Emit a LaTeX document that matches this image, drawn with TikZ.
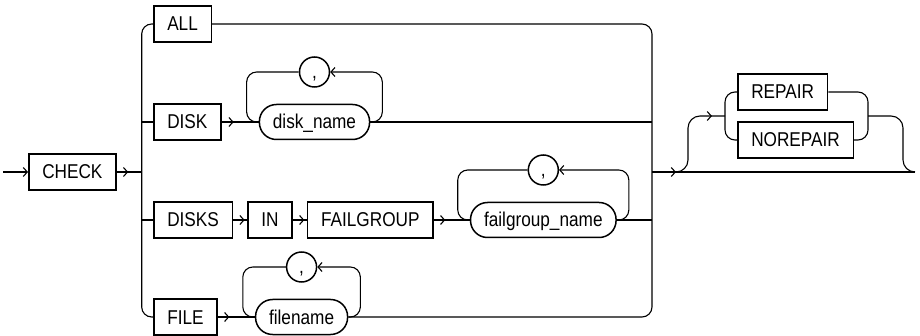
\documentclass[tikz,border=0pt]{standalone}
\usepackage{fontspec}
\newfontfamily\railfont[FakeStretch=0.86]{Liberation Sans}
\usetikzlibrary{positioning,arrows.meta,decorations.markings}

\begin{document}
\begin{tikzpicture}[
    x=1pt,y=-1pt,
    kw/.style={
      draw,line width=1.5pt,
      font=\railfont\fontsize{20}{20}\selectfont,
      text height=14pt,text depth=0pt,
      inner xsep=13.5pt,minimum height=36pt},
    var/.style={kw,rounded corners=17pt,minimum height=35pt},
    comma/.style={kw,circle,inner sep=0pt,minimum size=30pt},
    conn/.style={line width=1.1pt},
    bus/.style={conn,rounded corners=10pt},
    arr/.style={conn,postaction={decorate},
      decoration={markings,mark=at position #1 with {\arrow{Straight Barb[length=4pt,width=9pt]}}}},
    arr/.default=11.5pt,
    >={Straight Barb[length=4pt,width=9pt]}
]
\useasboundingbox (0,0) rectangle (920,336);

\node[kw,anchor=west]            (chk)    at (28,172)  {CHECK};
\node[kw,anchor=west]            (all)    at (153,24)  {ALL};
\node[kw,anchor=west]            (disk)   at (153,122) {DISK};
\node[var,right=37pt of disk]    (dname)  {disk\_name};
\node[comma,above=16pt of dname] (c1)     {,};
\node[kw,anchor=west]            (disks)  at (153,220) {DISKS};
\node[kw,right=14pt of disks]    (in)     {IN};
\node[kw,right=14pt of in]       (fg)     {FAILGROUP};
\node[var,right=36pt of fg]      (fgname) {failgroup\_name};
\node[comma,above=16pt of fgname](c2)     {,};
\node[kw,anchor=west]            (file)   at (153,317) {FILE};
\node[var,right=37pt of file]    (fname)  {filename};
\node[comma,above=16pt of fname] (c3)     {,};
\node[kw,anchor=west]            (rep)    at (737,92)  {REPAIR};
\node[kw,anchor=west]            (norep)  at (737,140) {NOREPAIR};

\coordinate (in0)    at (3,172);
\coordinate (lsplit) at (141.7,172);
\coordinate (rsplit) at (652,172);
\coordinate (out)    at (915,172);
\coordinate (osplit) at (725,116);
\coordinate (ojoin)  at (868,116);

\draw[conn,->] (in0) -- (chk);
\draw[arr] (chk) -- (lsplit);
\draw[bus] (all) -| (lsplit) |- (file);
\draw[conn] (lsplit |- disk.west) -- (disk);
\draw[conn] (lsplit |- disks.west) -- (disks);

\draw[arr=12pt] (disk) -- (dname);
\draw[arr] (disks) -- (in);
\draw[arr] (in) -- (fg);
\draw[arr] (fg) -- (fgname);
\draw[arr] (file) -- (fname);

\draw[bus,->] (dname.east) -- ++(12,0) |- (c1);
\draw[bus] (c1) -| ([xshift=-12pt]dname.west) -- (dname.west);
\draw[bus,->] (fgname.east) -- ++(12,0) |- (c2);
\draw[bus] (c2) -| ([xshift=-12pt]fgname.west) -- (fgname.west);
\draw[bus,->] (fname.east) -- ++(12,0) |- (c3);
\draw[bus] (c3) -| ([xshift=-12pt]fname.west) -- (fname.west);

\draw[bus] (all) -| (rsplit) |- (fname);
\draw[conn] (dname) -- (dname.east -| rsplit);
\draw[conn] (fgname) -- (fgname.east -| rsplit);
\draw[arr=24pt] (rsplit) -- (out);

\draw[arr=-13pt,rounded corners=12pt] (rsplit) ++(24,0) -- ++(12,0) |- (osplit);
\draw[bus] (rep) -| (osplit) |- (norep);
\draw[bus] (rep) -| (ojoin) |- (norep);
\draw[conn,rounded corners=12pt] (ojoin) -| ([xshift=-12pt]out) -- (out);
\end{tikzpicture}
\end{document}
